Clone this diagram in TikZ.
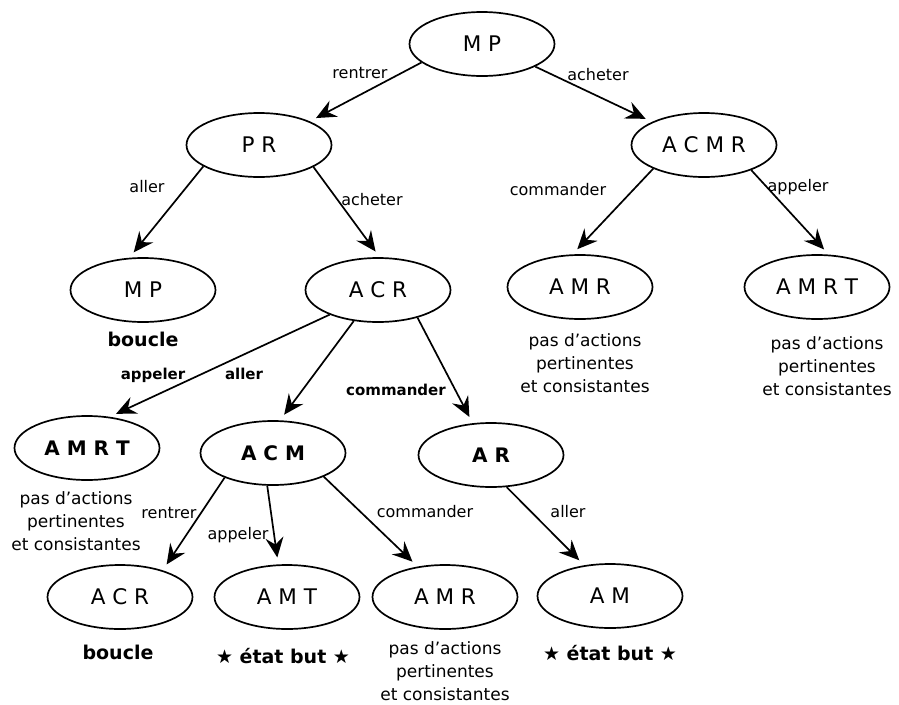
\documentclass[tikz,border=0pt]{standalone}
\usepackage{fontspec}
\setmainfont{DejaVu Sans}
\usetikzlibrary{shapes.geometric,arrows.meta}
\begin{document}
\begin{tikzpicture}[x=1pt,y=-1pt,
  state/.style={draw,ellipse,line width=1.7pt,minimum width=145pt,minimum height=64pt,inner sep=0pt,font=\fontsize{21.5}{24}\selectfont},
  bstate/.style={state,font=\fontsize{20}{24}\selectfont\bfseries},
  edge/.style={line width=1.7pt,-{Stealth[length=20pt,width=18pt,inset=7pt]},shorten >=7pt},
  lbl/.style={inner sep=0pt,font=\fontsize{16}{18}\selectfont},
  blbl/.style={lbl,font=\fontsize{15}{18}\selectfont\bfseries},
  note/.style={inner sep=0pt,align=center,font=\fontsize{17}{23}\selectfont},
  bnote/.style={inner sep=0pt,font=\fontsize{19}{22}\selectfont\bfseries}
]
\useasboundingbox (0,0) rectangle (899,704);

% states
\node[state] (mp)    at (482,44)  {M P};
\node[state] (pr)    at (259,145) {P R};
\node[state] (acmr)  at (704,145) {A C M R};
\node[state] (mp2)   at (143,290) {M P};
\node[state] (acr)   at (378,290) {A C R};
\node[state] (amr)   at (580,287) {A M R};
\node[state] (amrt)  at (817,287) {A M R T};
\node[bstate] (amrt2) at (87,448) {A M R T};
\node[bstate] (acm)  at (273,453) {A C M};
\node[bstate] (ar)   at (491,455) {A R};
\node[state] (acr2)  at (120,597) {A C R};
\node[state] (amt)   at (287,597) {A M T};
\node[state] (amr2)  at (445,597) {A M R};
\node[state] (am)    at (610,596) {A M};

% transitions
\draw[edge] (mp.197)   -- (pr.25);
\draw[edge] (mp.337)   -- (acmr.156);
\draw[edge] (pr.201)   -- (mp2.113);
\draw[edge] (pr.338)   -- (acr.87);
\draw[edge] (acmr.205) -- (amr.103);
\draw[edge] (acmr.332) -- (amrt.70);
\draw[edge] (acr.207)  -- (amrt2.54);
\draw[edge] (acr.232)  -- (acm.78);
\draw[edge] (acr.325)  -- (ar.120);
\draw[edge] (acm.207)  -- (acr2.32);
\draw[edge] (acm.260)  -- (amt.105);
\draw[edge] (acm.335)  -- (amr2.132);
\draw[edge] (ar.296)   -- (am.130);

% action labels
\node[lbl]  (l1)  at (360,73)  {rentrer};
\node[lbl]  (l2)  at (598,75)  {acheter};
\node[lbl]  (l3)  at (147,187) {aller};
\node[lbl]  (l4)  at (372,200) {acheter};
\node[lbl]  (l5)  at (558,190) {commander};
\node[lbl]  (l6)  at (798,187) {appeler};
\node[blbl] (l7)  at (153,375) {appeler};
\node[blbl] (l8)  at (244,374) {aller};
\node[blbl] (l9)  at (396,390) {commander};
\node[lbl]  (l10) at (169,513) {rentrer};
\node[lbl]  (l11) at (238,535) {appeler};
\node[lbl]  (l12) at (425,512) {commander};
\node[lbl]  (l13) at (568,512) {aller};

% outcomes
\node[bnote] (n1) at (143,339) {boucle};
\node[note]  (n2) at (585,363) {pas d’actions\\pertinentes\\et consistantes};
\node[note]  (n3) at (827,366) {pas d’actions\\pertinentes\\et consistantes};
\node[note]  (n4) at (76,521)  {pas d’actions\\pertinentes\\et consistantes};
\node[bnote] (n5) at (118,652) {boucle};
\node[bnote] (n6) at (283,656) {★ état but ★};
\node[note]  (n7) at (445,671) {pas d’actions\\pertinentes\\et consistantes};
\node[bnote] (n8) at (610,653) {★ état but ★};
\end{tikzpicture}
\end{document}
